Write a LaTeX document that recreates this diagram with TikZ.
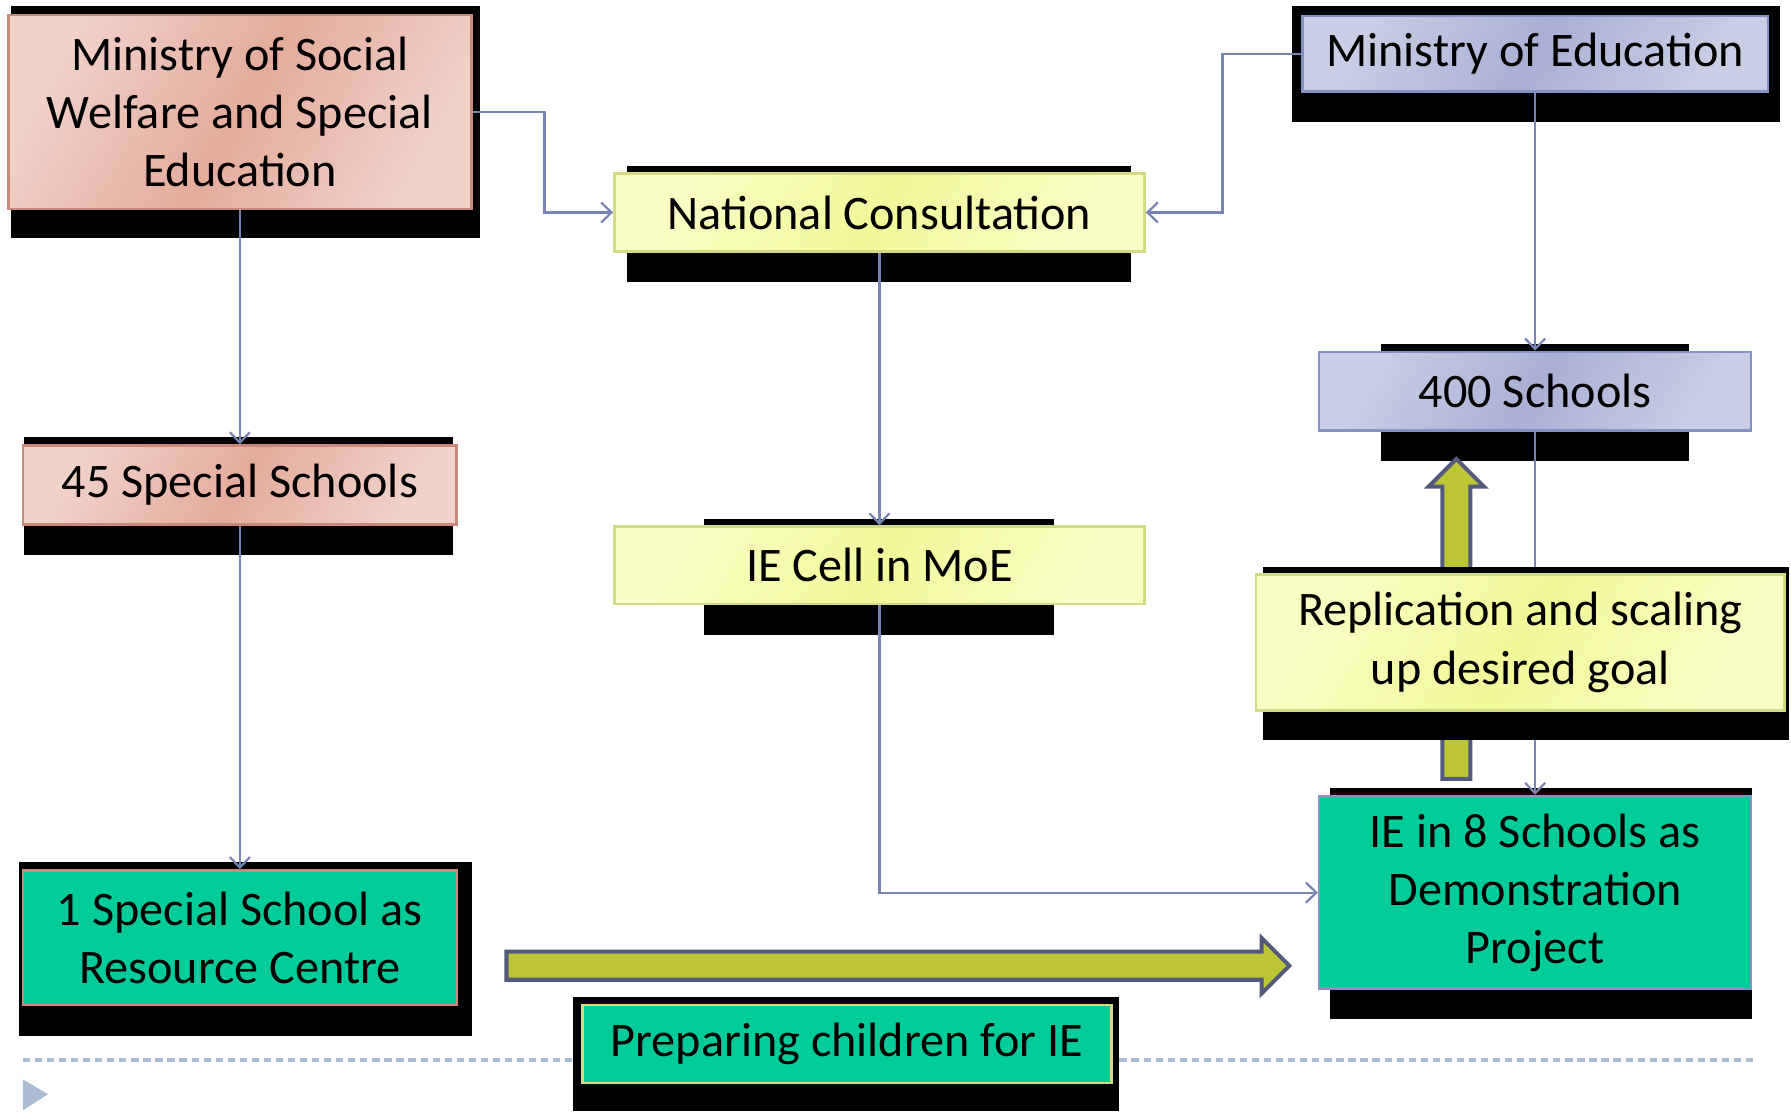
\documentclass[tikz,border=0pt]{standalone}
\usepackage{fontspec}
\setmainfont{Carlito}
\usetikzlibrary{positioning, arrows.meta, shapes.arrows}

\definecolor{pinkL}{HTML}{F0D2C9}
\definecolor{pinkD}{HTML}{E4AB9C}
\definecolor{pinkB}{HTML}{C98A7B}
\definecolor{blueL}{HTML}{C9CEE4}
\definecolor{blueD}{HTML}{A9B0D4}
\definecolor{blueB}{HTML}{8592C4}
\definecolor{yelL}{HTML}{F9FDC4}
\definecolor{yelD}{HTML}{F1F898}
\definecolor{yelB}{HTML}{D2DA84}
\definecolor{tealF}{HTML}{00CC99}
\definecolor{linkC}{HTML}{7884B2}
\definecolor{oliveF}{HTML}{BCC534}
\definecolor{slateB}{HTML}{535A7C}
\definecolor{dashC}{HTML}{A9BCD3}

\begin{document}
\begin{tikzpicture}[
  x=0.01cm, y=-0.01cm,
  box/.style={draw, rectangle, align=center, inner sep=2pt, line width=0.6pt,
    font=\fontsize{12}{14.5}\selectfont},
  pinkbox/.style={box, draw=pinkB, left color=pinkL, right color=pinkL,
    middle color=pinkD, shading angle=60},
  bluebox/.style={box, draw=blueB, left color=blueL, right color=blueL,
    middle color=blueD, shading angle=60},
  yellowbox/.style={box, draw=yelB, left color=yelL, right color=yelL,
    middle color=yelD, shading angle=60},
  greenbox/.style={box, fill=tealF},
  link/.style={-{Straight Barb[length=2.6pt,width=5pt]}, draw=linkC, line width=0.55pt},
  bigarrow/.style={single arrow, draw=slateB, fill=oliveF, line width=1pt,
    inner sep=0pt, text height=0.21cm, text depth=0pt,
    single arrow head extend=0.12cm, single arrow tip angle=90}
]
\useasboundingbox (0,0) rectangle (1568,973);

% Footer rule and bullet
\draw[dashC, line width=0.8pt, dash pattern=on 1.8pt off 1.2pt] (20,928) -- (1535,928);
\fill[dashC] (20,945) -- (42,958) -- (20,972) -- cycle;

% Black blocks behind the boxes
\fill[black] (10,5) rectangle (420,208);
\fill[black] (549,145) rectangle (990,247);
\fill[black] (1131,5) rectangle (1558,107);
\fill[black] (1209,301) rectangle (1479,404);
\fill[black] (21,383) rectangle (397,486);
\fill[black] (616,454) rectangle (923,556);
\fill[black] (1164,690) rectangle (1534,892);
\fill[black] (17,755) rectangle (413,907);
\fill[black] (502,873) rectangle (980,973);

% Left column: social welfare
\node[pinkbox, minimum width=4.05cm, minimum height=1.70cm] (mosw) at (210,98)
  {Ministry of Social\\Welfare and Special\\Education};
\node[pinkbox, minimum width=3.79cm, minimum height=0.69cm] (special45) at (210,424.5)
  {45 Special Schools};
\node[greenbox, draw=pinkB, minimum width=3.80cm, minimum height=1.18cm] (resource) at (210,821)
  {1 Special School as\\Resource Centre};

% Middle column
\node[yellowbox, minimum width=4.64cm, minimum height=0.68cm] (natcon) at (770,186)
  {National Consultation};
\node[yellowbox, minimum width=4.64cm, minimum height=0.68cm] (iecell) at (770,495)
  {IE Cell in MoE};
\node[greenbox, draw=yelB, minimum width=4.63cm, minimum height=0.68cm] (prepare) at (741.5,914)
  {Preparing children for IE};

% Right column: education
\node[bluebox, minimum width=4.07cm, minimum height=0.66cm] (moe) at (1344,47)
  {Ministry of Education};
\node[bluebox, minimum width=3.78cm, minimum height=0.69cm] (schools400) at (1344,342.5)
  {400 Schools};
\node[greenbox, draw=blueB, minimum width=3.78cm, minimum height=1.69cm] (demo8) at (1344,781.5)
  {IE in 8 Schools as\\Demonstration\\Project};

% Connectors
\draw[link] (mosw.east) -- ++(63,0) |- (natcon.west);
\draw[link] (moe.west) -- ++(-69,0) |- (natcon.east);
\draw[link] (mosw.south) -- (special45.north);
\draw[link] (special45.south) -- (resource.north);
\draw[link] (natcon.south) -- (iecell.north);
\draw[link] (iecell.south) |- (demo8.west);
\draw[link] (moe.south) -- (schools400.north);
\draw[link] (schools400.south) -- (demo8.north);

% Block arrows
\node[bigarrow, minimum height=6.85cm] (toDemo) at (780,845.5) {};
\node[bigarrow, minimum height=2.80cm, rotate=90] (upScale) at (1275,548) {};

% Goal box on top
\fill[black] (1106,496) rectangle (1566,648);
\node[yellowbox, minimum width=4.62cm, minimum height=1.19cm] (replicate) at (1331,562.5)
  {Replication and scaling\\up desired goal};

\end{tikzpicture}
\end{document}
